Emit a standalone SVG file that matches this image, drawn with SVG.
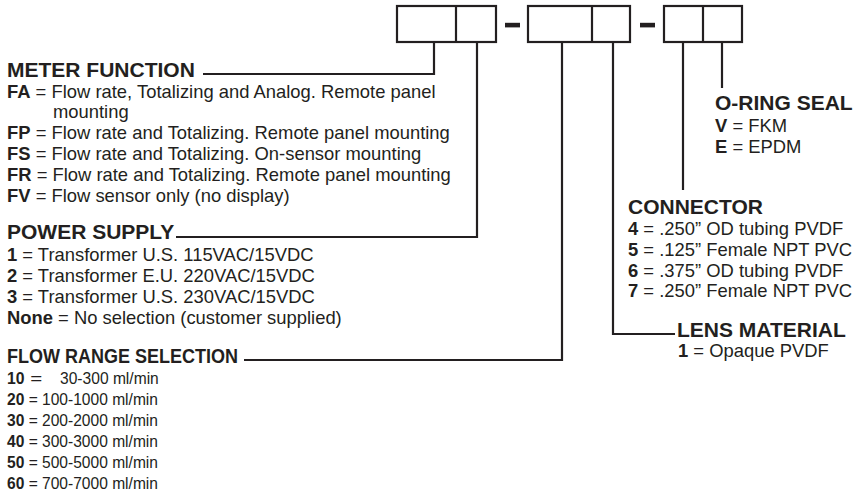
<svg xmlns="http://www.w3.org/2000/svg" width="861" height="493" viewBox="0 0 861 493">
<style>
text{font-family:"Liberation Sans",Arial,sans-serif;fill:#231f20}
.t{font-size:21px;font-weight:bold}
.b{font-size:18.4px}
.ft{font-size:21px;font-weight:bold}
.fb{font-size:17px}
.k{font-weight:bold}
.box{fill:none;stroke:#231f20;stroke-width:2.2}
.ln{fill:none;stroke:#231f20;stroke-width:2.2}
</style>
<rect width="861" height="493" fill="#fff"/>
<g id="code-boxes">
<rect class="box" x="397" y="6" width="99" height="36"/>
<line class="box" x1="456" y1="6" x2="456" y2="42"/>
<rect x="505" y="22.8" width="15" height="4.6" fill="#231f20"/>
<rect class="box" x="528" y="6" width="102" height="36"/>
<line class="box" x1="592" y1="6" x2="592" y2="42"/>
<rect x="640" y="22.8" width="15" height="4.6" fill="#231f20"/>
<rect class="box" x="664" y="6" width="78" height="36"/>
<line class="box" x1="703" y1="6" x2="703" y2="42"/>
</g>
<g id="connectors">
<polyline class="ln" points="434,42 434,74 203,74"/>
<polyline class="ln" points="477,42 477,237 176,237"/>
<polyline class="ln" points="562,42 562,360 244,360"/>
<polyline class="ln" points="613,42 613,334 675,334"/>
<line class="ln" x1="683" y1="42" x2="683" y2="190"/>
<line class="ln" x1="722" y1="42" x2="722" y2="88"/>
</g>
<g id="meter-function">
<text class="t" x="7" y="77">METER FUNCTION</text>
<text class="b" x="7" y="98"><tspan class="k">FA</tspan> = Flow rate, Totalizing and Analog. Remote panel</text>
<text class="b" x="53" y="118">mounting</text>
<text class="b" x="7" y="139"><tspan class="k">FP</tspan> = Flow rate and Totalizing. Remote panel mounting</text>
<text class="b" x="7" y="160"><tspan class="k">FS</tspan> = Flow rate and Totalizing. On-sensor mounting</text>
<text class="b" x="7" y="181"><tspan class="k">FR</tspan> = Flow rate and Totalizing. Remote panel mounting</text>
<text class="b" x="7" y="202"><tspan class="k">FV</tspan> = Flow sensor only (no display)</text>
</g>
<g id="power-supply">
<text class="t" x="7" y="239">POWER SUPPLY</text>
<text class="b" x="7" y="261"><tspan class="k">1</tspan> = Transformer U.S. 115VAC/15VDC</text>
<text class="b" x="7" y="282"><tspan class="k">2</tspan> = Transformer E.U. 220VAC/15VDC</text>
<text class="b" x="7" y="303"><tspan class="k">3</tspan> = Transformer U.S. 230VAC/15VDC</text>
<text class="b" x="7" y="324"><tspan class="k">None</tspan> = No selection (customer supplied)</text>
</g>
<g id="flow-range">
<text class="ft" x="7" y="363" textLength="231" lengthAdjust="spacingAndGlyphs">FLOW RANGE SELECTION</text>
<text class="fb" x="7" y="384"><tspan class="k" textLength="17.5" lengthAdjust="spacingAndGlyphs">10</tspan><tspan textLength="17.7" lengthAdjust="spacingAndGlyphs"> =</tspan><tspan x="60" textLength="98.8" lengthAdjust="spacingAndGlyphs">30-300 ml/min</tspan></text>
<text class="fb" x="7" y="405" textLength="151" lengthAdjust="spacingAndGlyphs"><tspan class="k">20</tspan> = 100-1000 ml/min</text>
<text class="fb" x="7" y="426" textLength="151" lengthAdjust="spacingAndGlyphs"><tspan class="k">30</tspan> = 200-2000 ml/min</text>
<text class="fb" x="7" y="447" textLength="151" lengthAdjust="spacingAndGlyphs"><tspan class="k">40</tspan> = 300-3000 ml/min</text>
<text class="fb" x="7" y="468" textLength="151" lengthAdjust="spacingAndGlyphs"><tspan class="k">50</tspan> = 500-5000 ml/min</text>
<text class="fb" x="7" y="489" textLength="151" lengthAdjust="spacingAndGlyphs"><tspan class="k">60</tspan> = 700-7000 ml/min</text>
</g>
<g id="o-ring-seal">
<text class="t" x="715" y="110">O-RING SEAL</text>
<text class="b" x="715" y="132"><tspan class="k">V</tspan> = FKM</text>
<text class="b" x="715" y="153"><tspan class="k">E</tspan> = EPDM</text>
</g>
<g id="connector">
<text class="t" x="628" y="214">CONNECTOR</text>
<text class="b" x="628" y="235"><tspan class="k">4</tspan> = .250” OD tubing PVDF</text>
<text class="b" x="628" y="256"><tspan class="k">5</tspan> = .125” Female NPT PVC</text>
<text class="b" x="628" y="277"><tspan class="k">6</tspan> = .375” OD tubing PVDF</text>
<text class="b" x="628" y="297"><tspan class="k">7</tspan> = .250” Female NPT PVC</text>
</g>
<g id="lens-material">
<text class="t" x="677" y="337">LENS MATERIAL</text>
<text class="b" x="678" y="357"><tspan class="k">1</tspan> = Opaque PVDF</text>
</g>
</svg>
